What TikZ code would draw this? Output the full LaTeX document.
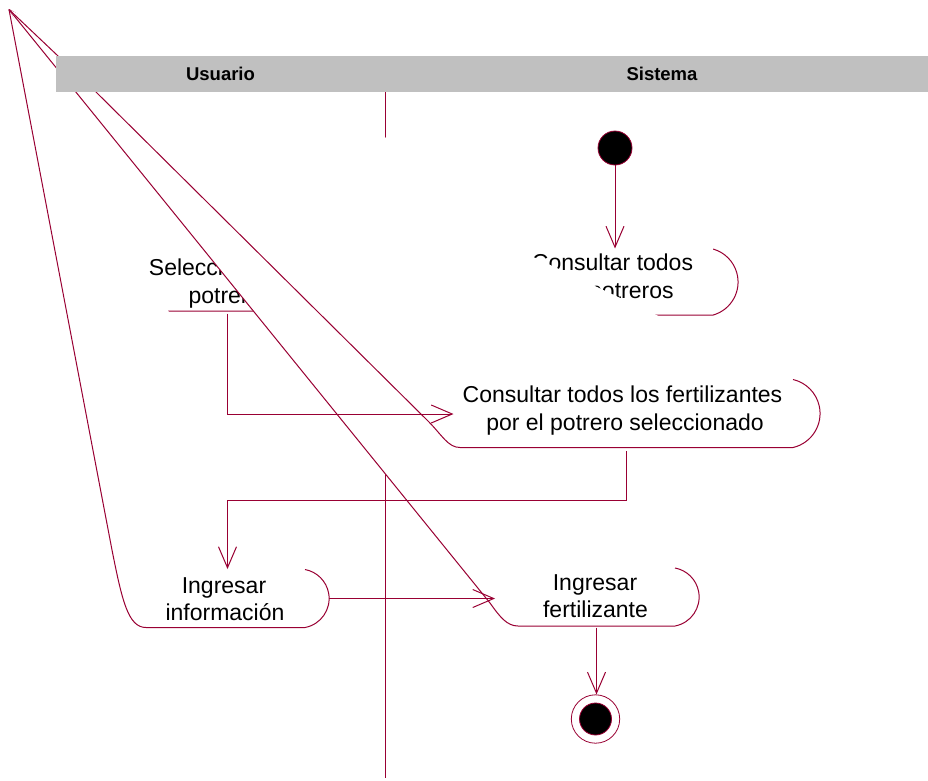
\documentclass[tikz,border=0pt]{standalone}
\usepackage{fontspec}
\setmainfont{Liberation Sans}
\usetikzlibrary{arrows.meta}
\definecolor{rose}{RGB}{153,0,51}
\definecolor{lanegrey}{RGB}{192,192,192}
\begin{document}
\begin{tikzpicture}[x=1pt,y=-1pt,
  conn/.style={draw=rose,line width=1pt},
  flow/.style={conn,-{Straight Barb[length=21pt,width=18pt]}},
  actfill/.style={fill=white},
  actline/.style={draw=rose,line width=1pt},
  acttext/.style={anchor=base,inner sep=0pt,font=\fontsize{23}{27}\selectfont},
  lanetext/.style={anchor=base,inner sep=0pt,font=\fontsize{18.5}{22}\selectfont\bfseries},
  startdot/.style={circle,fill=black,draw=rose,line width=0.8pt,inner sep=0pt},
]
\useasboundingbox (0,0) rectangle (928,780);
\fill[white] (0,0) rectangle (928,780);
\coordinate (apex) at (9,9.5);

% lane separator
\coordinate (sepTop) at (385,92);
\coordinate (sepBot) at (385,778);
\draw[conn] (sepTop) -- (sepBot);

% Consultar todos los potreros
\fill[actfill] (apex) -- (480,285) .. controls (492,305) and (500,315) .. (513,315) -- (713.2,315) arc[start angle=74,end angle=-74,radius=34.3] -- cycle;
\draw[actline] (apex) -- (480,285) .. controls (492,305) and (500,315) .. (513,315) -- (713.2,315) arc[start angle=74,end angle=-74,radius=34.3];
\node[acttext] (cp1) at (612.5,270) {Consultar todos};
\node[acttext] (cp2) at (613.5,298) {los potreros};

% Seleccionar potrero
\fill[actfill] (apex) -- (130,285) .. controls (140,303) and (150,311) .. (165,311) -- (283,311) arc[start angle=79.5,end angle=-79.5,radius=29.5] -- cycle;
\draw[actline] (apex) -- (130,285) .. controls (140,303) and (150,311) .. (165,311) -- (283,311) arc[start angle=79.5,end angle=-79.5,radius=29.5];
\node[acttext] (sp1) at (225,275) {Seleccionar un};
\node[acttext] (sp2) at (225,303) {potrero};

% Ingresar informacion
\fill[actfill] (apex) -- (112,550) .. controls (122,600) and (128,627.5) .. (146,627.5) -- (305,627.5) arc[start angle=79.5,end angle=-79.5,radius=29.5] -- cycle;
\draw[actline] (apex) -- (112,550) .. controls (122,600) and (128,627.5) .. (146,627.5) -- (305,627.5) arc[start angle=79.5,end angle=-79.5,radius=29.5];
\node[acttext] (ii1) at (224,593) {Ingresar};
\node[acttext] (ii2) at (225,620) {información};

% Ingresar fertilizante
\fill[actfill] (apex) -- (490,603) .. controls (500,617) and (507,626) .. (518,626) -- (675,626) arc[start angle=79.5,end angle=-79.5,radius=29.5] -- cycle;
\draw[actline] (apex) -- (490,603) .. controls (500,617) and (507,626) .. (518,626) -- (675,626) arc[start angle=79.5,end angle=-79.5,radius=29.5];
\node[acttext] (if1) at (595,590) {Ingresar};
\node[acttext] (if2) at (595.5,617) {fertilizante};

% Consultar todos los fertilizantes
\fill[actfill] (apex) -- (96,92) -- (428,421) .. controls (442,435) and (448,447.5) .. (460,447.5) -- (793,447.5) arc[start angle=77,end angle=-77,radius=34.9] -- cycle;
\draw[actline] (apex) -- (96,92) -- (428,421) .. controls (442,435) and (448,447.5) .. (460,447.5) -- (793,447.5) arc[start angle=77,end angle=-77,radius=34.9];
\node[acttext] (cf1) at (622.5,402) {Consultar todos los fertilizantes};
\node[acttext] (cf2) at (625,430.5) {por el potrero seleccionado};

% swimlane header
\fill[lanegrey] (56,56) rectangle (928,92);
\node[lanetext] (usuario) at (220.5,80) {Usuario};
\node[lanetext] (sistema) at (662,80) {Sistema};

% start node
\node[startdot,minimum size=34pt] (init) at (615,148) {};
\coordinate (cpIn) at (615,248.5);
\draw[flow] (init.south) -- (cpIn);

% Seleccionar -> Consultar fertilizantes
\coordinate (spOut) at (227.5,313.5);
\coordinate (cfIn) at (453.5,414);
\draw[flow] (spOut) |- (cfIn);

% Consultar fertilizantes -> Ingresar informacion
\coordinate (cfOut) at (626,451);
\coordinate (cfJog) at (626,500);
\coordinate (iiIn) at (227.5,569);
\draw[flow] (cfOut) -- (cfJog) -| (iiIn);

% Ingresar informacion -> Ingresar fertilizante
\coordinate (iiOut) at (329,598.5);
\coordinate (ifIn) at (495,598.5);
\draw[flow] (iiOut) -- (ifIn);

% final node
\node[circle,draw=rose,line width=0.8pt,minimum size=48.4pt,inner sep=0pt] (final) at (595.5,719) {};
\node[startdot,minimum size=32pt] (finalDot) at (final.center) {};
\coordinate (ifOut) at (596.5,627.5);
\draw[flow] (ifOut) -- (ifOut |- final.north);
\end{tikzpicture}
\end{document}
